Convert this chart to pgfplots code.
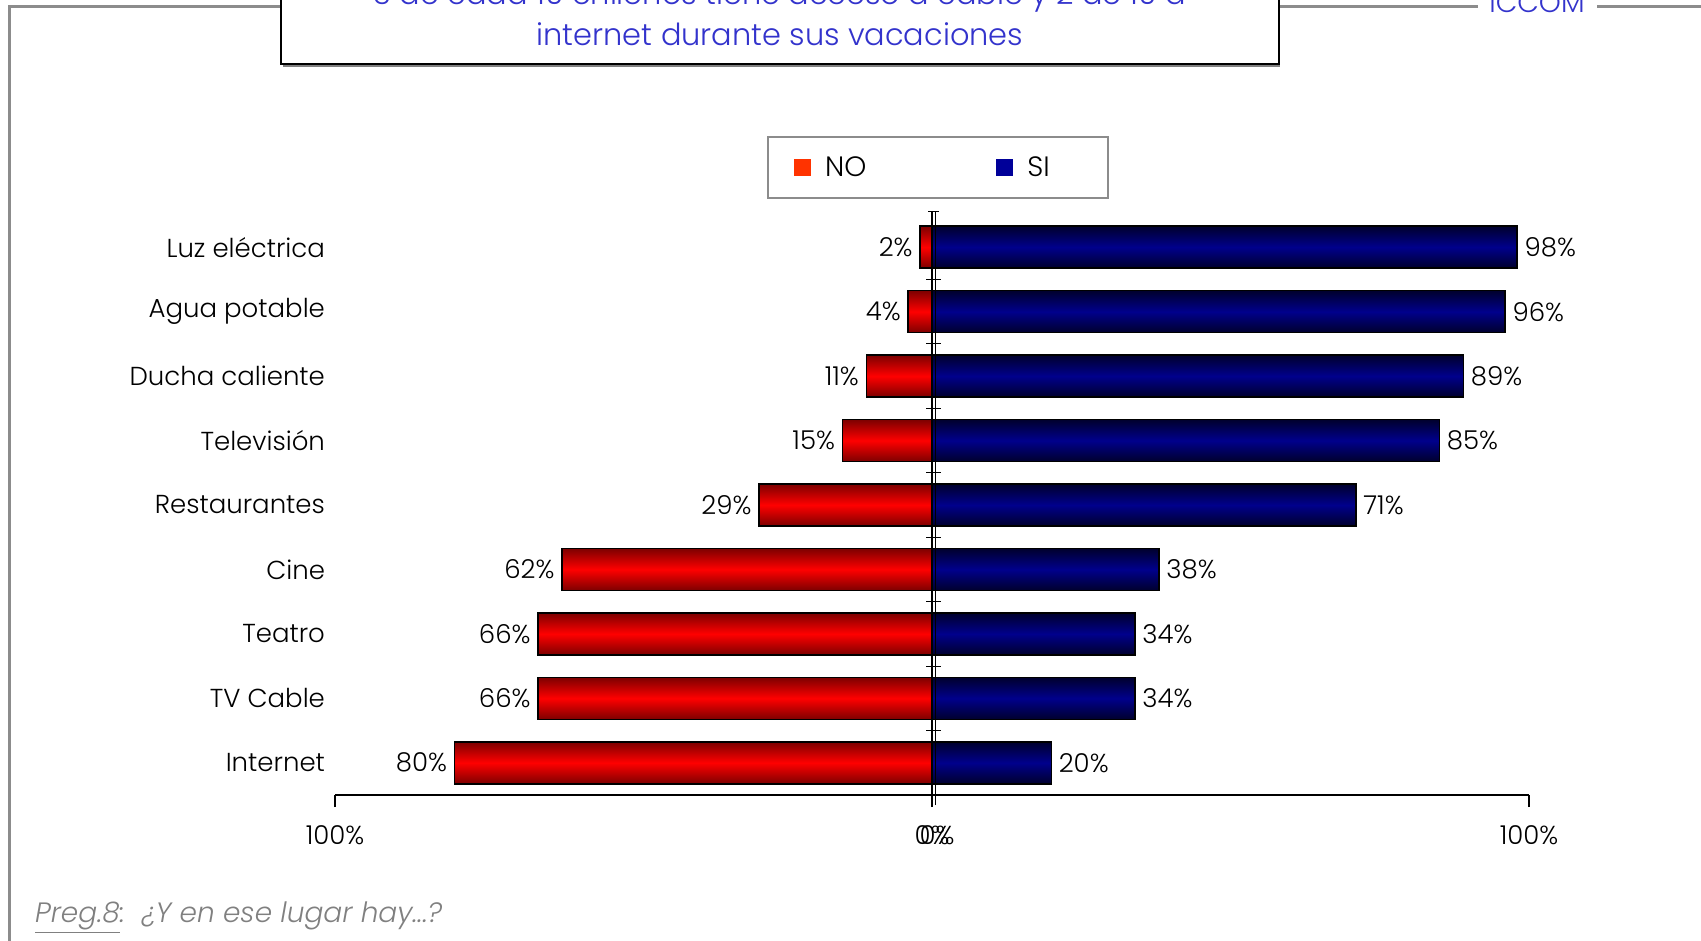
\documentclass[border=0pt]{standalone}
\usepackage{pgfplots}
\pgfplotsset{compat=1.18}
\usepackage{fontspec}
\IfFontExistsTF{Poppins Light}{%
  \IfFontExistsTF{Poppins Light Italic}%
    {\setmainfont{Poppins Light}[ItalicFont={Poppins Light Italic}]}%
    {\setmainfont{Poppins Light}}}%
  {\setmainfont{Poppins}}

\definecolor{barred}{RGB}{255,0,0}
\definecolor{darkred}{RGB}{125,0,0}
\definecolor{barblue}{RGB}{0,0,140}
\definecolor{darkblue}{RGB}{0,0,45}
\definecolor{legno}{RGB}{255,51,0}
\definecolor{legsi}{RGB}{0,0,153}
\definecolor{titleblue}{RGB}{51,51,204}
\definecolor{framegray}{RGB}{140,140,140}

\pgfplotsset{
  nobar/.style={draw=black, line width=0.8pt, top color=darkred, bottom color=darkred,
    middle color=barred, nodes near coords style={anchor=east}},
  sibar/.style={draw=black, line width=0.8pt, top color=darkblue, bottom color=darkblue,
    middle color=barblue, nodes near coords style={anchor=west}},
}

\begin{document}
\begin{tikzpicture}
\begin{scope}[x=0.5pt,y=-0.5pt]
% frame and title box
\draw[framegray, line width=1.5pt] (9,945) -- (9,7) -- (281,7);
\draw[framegray, line width=1.5pt] (1279,7) -- (1478,7);
\draw[framegray, line width=1.5pt] (1597,7) -- (1705,7);
\draw[gray, line width=1pt] (283,66) -- (1280,66);
\draw[black, line width=1pt, fill=white] (281,-20) rectangle (1279,64);
\node[text=titleblue, font=\fontsize{15.2}{18}\selectfont] at (780,-3) {3 de cada 10 chilenos tiene acceso a cable y 2 de 10 a};
\node[text=titleblue, font=\fontsize{15.2}{18}\selectfont] at (780,34) {internet durante sus vacaciones};
\node[text=titleblue, font=\fontsize{14}{17}\selectfont, fill=white] at (1537,3) {ICCOM};
\node[anchor=base west, text=gray, font=\fontsize{14}{17}\selectfont\itshape] at (28,922)
  {\underline{Preg.8}:\ \ ¿Y en ese lugar hay...?};
\end{scope}

\begin{axis}[
    at={(167.5pt,-397.5pt)}, anchor=south west,
    scale only axis,
    width=597pt, height=290pt,
    xmin=-100, xmax=100,
    ymin=-0.5, ymax=8.5,
    xbar, bar width=21pt, bar shift=0pt,
    axis x line*=bottom,
    axis y line*=left,
    y axis line style={draw=none},
    x axis line style={line width=1pt},
    xtick={-100,0,100},
    xticklabels={100\%,0\%,100\%},
    extra x ticks={0},
    extra x tick labels={0\%},
    extra x tick style={xticklabel style={xshift=2.5pt}, tick style={draw=none}},
    tick align=outside,
    x tick style={line width=0.8pt, black},
    major tick length=6pt,
    xticklabel style={font=\fontsize{13}{16}\selectfont, yshift=-6pt},
    ytick={0,...,8},
    yticklabels={Internet,TV Cable,Teatro,Cine,Restaurantes,Televisión,Ducha caliente,Agua potable,Luz eléctrica},
    y tick style={draw=none},
    yticklabel style={font=\fontsize{13}{16}\selectfont, xshift=4.5pt},
    /pgf/number format/assume math mode=true,
    point meta=explicit,
    nodes near coords={\pgfmathprintnumber{\pgfplotspointmeta}\%},
    every node near coord/.append style={font=\fontsize{13}{16}\selectfont, black},
    clip=false,
    legend columns=2,
    legend style={at={(0.505,1)}, anchor=south, yshift=8pt,
        draw=framegray, line width=1pt, inner xsep=13pt, inner ysep=7.5pt,
        font=\fontsize{14}{17}\selectfont},
]
\addlegendimage{legend image code/.code={\fill[legno] (0pt,-3.7pt) rectangle (7.5pt,3.7pt); \path (12.5pt,0);}}
\addlegendentry{NO\hspace*{63pt}}
\addlegendimage{legend image code/.code={\fill[legsi] (0pt,-3.7pt) rectangle (7.5pt,3.7pt); \path (12.5pt,0);}}
\addlegendentry{SI\hspace*{14pt}}

% NO (to the left of zero)
\addplot[nobar] coordinates {(-80,0) [80]};
\addplot[nobar] coordinates {(-66,1) [66]};
\addplot[nobar] coordinates {(-66,2) [66]};
\addplot[nobar] coordinates {(-62,3) [62]};
\addplot[nobar] coordinates {(-29,4) [29]};
\addplot[nobar] coordinates {(-15,5) [15]};
\addplot[nobar] coordinates {(-11,6) [11]};
\addplot[nobar] coordinates {(-4,7) [4]};
\addplot[nobar] coordinates {(-2,8) [2]};
% SI
\addplot[sibar] coordinates {(20,0) [20]};
\addplot[sibar] coordinates {(34,1) [34]};
\addplot[sibar] coordinates {(34,2) [34]};
\addplot[sibar] coordinates {(38,3) [38]};
\addplot[sibar] coordinates {(71,4) [71]};
\addplot[sibar] coordinates {(85,5) [85]};
\addplot[sibar] coordinates {(89,6) [89]};
\addplot[sibar] coordinates {(96,7) [96]};
\addplot[sibar] coordinates {(98,8) [98]};

% central axis (double line with small ticks)
\draw[line width=0.6pt] ([yshift=-5pt]axis cs:0,-0.5) -- (axis cs:0,8.55);
\draw[line width=0.6pt] ([xshift=1.6pt,yshift=-5pt]axis cs:0,-0.5) -- ([xshift=1.6pt]axis cs:0,8.55);
\draw[line width=0.6pt] ([xshift=-2pt]axis cs:0,8.55) -- ([xshift=3.6pt]axis cs:0,8.55);
\pgfplotsinvokeforeach{0.5,1.5,2.5,3.5,4.5,5.5,6.5,7.5}{
  \draw[line width=0.6pt] ([xshift=-3pt]axis cs:0,#1) -- ([xshift=4.6pt]axis cs:0,#1);
}
\end{axis}

\pgfresetboundingbox
\path[use as bounding box] (0pt,0pt) rectangle (850.5pt,-470.5pt);
\end{tikzpicture}
\end{document}
